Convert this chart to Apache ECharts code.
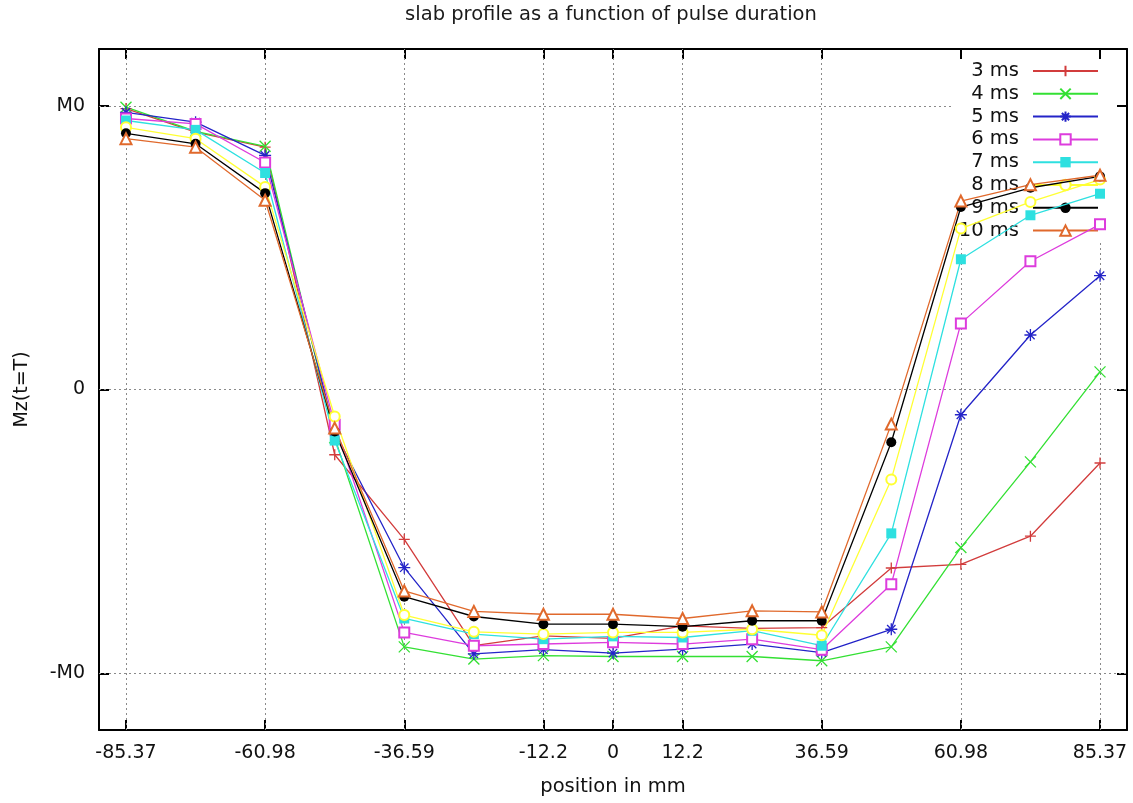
<!DOCTYPE html>
<html><head><meta charset="utf-8">
<script src="https://cdn.jsdelivr.net/npm/echarts@6/dist/echarts.min.js"></script>
<style>html,body{margin:0;padding:0;background:#fff}#c{width:1133px;height:803px}</style>
</head><body><div id="c"></div>
<script>
// ---- data ----
const positions = [-85.37, -73.17, -60.98, -48.78, -36.59, -24.39, -12.2, 0, 12.2, 24.39, 36.59, 48.78, 60.98, 73.17, 85.37];
const xTicks = [-85.37, -60.98, -36.59, -12.2, 0, 12.2, 36.59, 60.98, 85.37];
const yTicks = [-1, 0, 1];
const yTickLabels = ['-M0', '0', 'M0'];
const seriesNames = ['3 ms', '4 ms', '5 ms', '6 ms', '7 ms', '8 ms', '9 ms', '10 ms'];
const ms3  = [0.99, 0.907, 0.854, -0.23, -0.528, -0.903, -0.868, -0.877, -0.833, -0.842, -0.839, -0.629, -0.616, -0.517, -0.259];
const ms4  = [0.995, 0.91, 0.857, -0.17, -0.907, -0.95, -0.938, -0.941, -0.941, -0.941, -0.956, -0.907, -0.557, -0.255, 0.062];
const ms5  = [0.977, 0.942, 0.825, -0.15, -0.628, -0.932, -0.917, -0.929, -0.915, -0.897, -0.927, -0.845, -0.089, 0.192, 0.401];
const ms6  = [0.955, 0.936, 0.80, -0.124, -0.856, -0.903, -0.897, -0.891, -0.897, -0.88, -0.917, -0.686, 0.233, 0.452, 0.582];
const ms7  = [0.948, 0.915, 0.763, -0.18, -0.807, -0.862, -0.88, -0.87, -0.874, -0.85, -0.903, -0.507, 0.459, 0.614, 0.69];
const ms8  = [0.924, 0.884, 0.714, -0.095, -0.795, -0.854, -0.862, -0.856, -0.856, -0.845, -0.866, -0.317, 0.567, 0.661, 0.74];
const ms9  = [0.903, 0.866, 0.692, -0.148, -0.73, -0.80, -0.827, -0.827, -0.836, -0.815, -0.815, -0.186, 0.643, 0.711, 0.751];
const ms10 = [0.884, 0.854, 0.667, -0.136, -0.71, -0.782, -0.792, -0.792, -0.807, -0.78, -0.784, -0.122, 0.664, 0.722, 0.755];
const allSeries = [ms3, ms4, ms5, ms6, ms7, ms8, ms9, ms10];

// ---- styles ----
const colors = ['#d23c3c', '#33e033', '#2424c8', '#dd3cdd', '#2ee0e0', '#ffff33', '#000000', '#e0692c'];
const PLUS = 'path://M0,5L10,5M5,0L5,10';
const CROSS = 'path://M0,0L10,10M10,0L0,10';
const STAR = 'path://M0,5L10,5M5,0L5,10M1.5,1.5L8.5,8.5M8.5,1.5L1.5,8.5';
const symbols = [PLUS, CROSS, STAR, 'emptyRect', 'rect', 'emptyCircle', 'circle', 'emptyTriangle'];
const symbolSizes = [11, 11, 12, 10, 10, 10, 10, 11];
const FONT = 'DejaVu Sans';
const XMIN = -90.1, XMAX = 90.1, YMIN = -1.2, YMAX = 1.2;

const chart = echarts.init(document.getElementById('c'), null, {renderer: 'canvas'});

const gridLineData = [];
xTicks.forEach(v => {
  const top = v > 59.5 ? 0.52 : YMAX;
  gridLineData.push([{coord: [v, YMIN]}, {coord: [v, top]}]);
});
yTicks.forEach(v => {
  const right = v > 0.9 ? 59.5 : XMAX;
  gridLineData.push([{coord: [XMIN, v]}, {coord: [right, v]}]);
});

const dataSeries = allSeries.map((arr, i) => ({
  name: seriesNames[i],
  type: 'line',
  z: 5,
  data: arr.map((v, k) => [positions[k], v]),
  symbol: symbols[i],
  symbolSize: symbolSizes[i],
  showAllSymbol: true,
  lineStyle: {color: colors[i], width: 1.3},
  itemStyle: {color: colors[i], borderColor: colors[i], borderWidth: (i === 4 || i === 6) ? 0 : 1.3},
  emphasis: {disabled: true}
}));

const axisCommon = {
  type: 'value',
  axisLine: {show: true, onZero: false, lineStyle: {color: '#000', width: 2}},
  axisTick: {show: true, inside: true, length: 10, lineStyle: {color: '#000', width: 2}},
  splitLine: {show: false}
};

chart.setOption({
  animation: false,
  backgroundColor: '#fff',
  textStyle: {fontFamily: FONT},
  graphic: [{
    type: 'text', x: 611, y: 15,
    style: {text: 'slab profile as a function of pulse duration', font: '19.5px "DejaVu Sans"', fill: '#1a1a1a', align: 'center', verticalAlign: 'middle'}
  }],
  grid: {left: 99, top: 49, width: 1028, height: 681, containLabel: false},
  legend: {
    data: seriesNames,
    orient: 'vertical', right: 34, top: 61, align: 'right',
    itemWidth: 65, itemHeight: 13, itemGap: 2.8, padding: 0,
    selectedMode: false,
    textStyle: {fontSize: 19.5, lineHeight: 16, fontFamily: FONT, color: '#111', padding: [0, 9, 0, 0]}
  },
  xAxis: [
    Object.assign({}, axisCommon, {
      position: 'bottom', min: XMIN, max: XMAX,
      name: 'position in mm', nameLocation: 'middle', nameGap: 47,
      nameTextStyle: {fontSize: 19.5, fontFamily: FONT, color: '#111'},
      axisTick: Object.assign({}, axisCommon.axisTick, {customValues: xTicks}),
      axisLabel: {customValues: xTicks, fontSize: 19, fontFamily: FONT, color: '#111', margin: 14,
        formatter: v => String(v)}
    }),
    Object.assign({}, axisCommon, {
      position: 'top', min: XMIN, max: XMAX,
      axisTick: Object.assign({}, axisCommon.axisTick, {customValues: xTicks}),
      axisLabel: {show: false}
    })
  ],
  yAxis: [
    Object.assign({}, axisCommon, {
      position: 'left', min: YMIN, max: YMAX,
      name: 'Mz(t=T)', nameLocation: 'middle', nameGap: 67, nameRotate: 90,
      nameTextStyle: {fontSize: 19, fontFamily: FONT, color: '#111'},
      axisTick: Object.assign({}, axisCommon.axisTick, {customValues: yTicks}),
      axisLabel: {customValues: yTicks, fontSize: 19, fontFamily: FONT, color: '#111', margin: 14,
        formatter: v => yTickLabels[yTicks.indexOf(Math.round(v))] || ''}
    }),
    Object.assign({}, axisCommon, {
      position: 'right', min: YMIN, max: YMAX,
      axisTick: Object.assign({}, axisCommon.axisTick, {customValues: yTicks}),
      axisLabel: {show: false}
    })
  ],
  series: [{
    type: 'line', name: '_grid', data: [], z: 1, silent: true,
    markLine: {
      silent: true, symbol: 'none', z: 1, animation: false,
      label: {show: false},
      lineStyle: {type: [2, 3], color: '#8a8a8a', width: 1},
      emphasis: {disabled: true},
      data: gridLineData
    }
  }].concat(dataSeries)
});
</script></body></html>
